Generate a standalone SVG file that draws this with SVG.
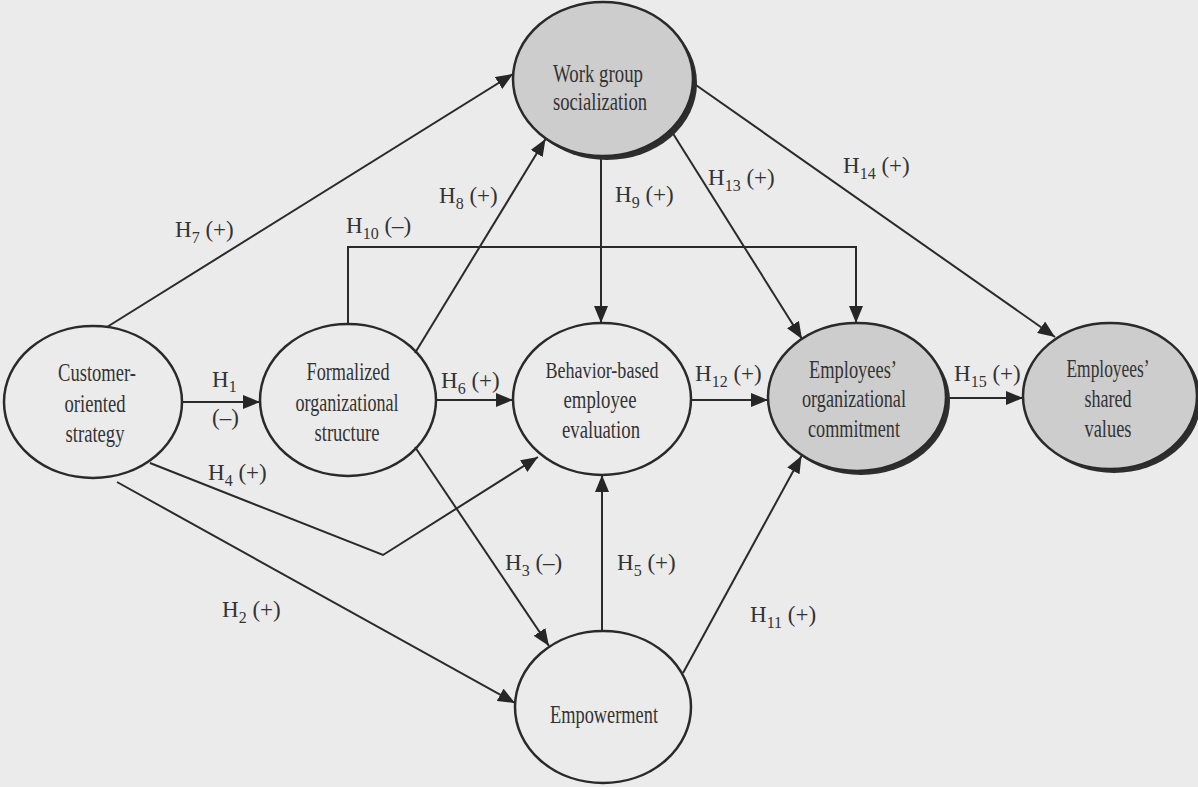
<svg xmlns="http://www.w3.org/2000/svg" width="1198" height="787" viewBox="0 0 1198 787">
  <defs>
    <marker id="arr" markerUnits="userSpaceOnUse" markerWidth="18" markerHeight="14" refX="17" refY="7" orient="auto">
      <path d="M0,0 L17,7 L0,14 z" fill="#262626"/>
    </marker>
    <style>
      .bg { fill: #ebebeb; }
      .node { fill: none; stroke: #2a2a2a; stroke-width: 2.5; }
      .shaded { fill: #cdcdcd; stroke: #2a2a2a; stroke-width: 2.5; }
      .shadow { fill: #2e2e2e; }
      .edge { fill: none; stroke: #2a2a2a; stroke-width: 2; }
      .arrow { marker-end: url(#arr); }
      text { font-family: "Liberation Serif", "Times New Roman", serif; font-size: 25px; fill: #333333; }
      .lab { font-size: 23px; }
      .sub { font-size: 16px; }
      .sm { font-size: 23.5px; }
    </style>
  </defs>
  <rect class="bg" x="0" y="0" width="1198" height="787"/>

  <g id="connectors">
    <line id="e-h1" class="edge arrow" x1="182" y1="402" x2="260" y2="402"/>
    <line id="e-h7" class="edge arrow" x1="107" y1="327" x2="513" y2="74"/>
    <line id="e-h8" class="edge arrow" x1="415" y1="353" x2="545.5" y2="139"/>
    <polyline id="e-h10" class="edge arrow" points="348,324 348,247 856,247 856,323"/>
    <line id="e-h9" class="edge arrow" x1="601" y1="156" x2="601" y2="323"/>
    <line id="e-h13" class="edge arrow" x1="672" y1="132" x2="802" y2="339"/>
    <line id="e-h14" class="edge arrow" x1="693" y1="83" x2="1055" y2="337"/>
    <line id="e-h6" class="edge arrow" x1="436" y1="400" x2="513" y2="400"/>
    <line id="e-h12" class="edge arrow" x1="691" y1="400" x2="768" y2="400"/>
    <line id="e-h15" class="edge arrow" x1="946" y1="398" x2="1023" y2="398"/>
    <polyline id="e-h4" class="edge arrow" points="150,463 383,555 538,457"/>
    <line id="e-h2" class="edge arrow" x1="117" y1="482" x2="515" y2="703"/>
    <line id="e-h3" class="edge arrow" x1="415" y1="447" x2="549" y2="646"/>
    <line id="e-h5" class="edge arrow" x1="602" y1="631" x2="602" y2="475"/>
    <line id="e-h11" class="edge arrow" x1="683" y1="673" x2="801.5" y2="456"/>

    <g id="edge-labels">
      <text class="lab" x="212" y="387">H<tspan class="sub" dy="5">1</tspan></text>
      <text class="lab" x="212" y="425">(–)</text>
      <text class="lab" x="175" y="237">H<tspan class="sub" dy="6">7</tspan><tspan dy="-6"> (+)</tspan></text>
      <text class="lab" x="346" y="233">H<tspan class="sub" dy="6">10</tspan><tspan dy="-6"> (–)</tspan></text>
      <text class="lab" x="439" y="203">H<tspan class="sub" dy="6">8</tspan><tspan dy="-6"> (+)</tspan></text>
      <text class="lab" x="615" y="202">H<tspan class="sub" dy="6">9</tspan><tspan dy="-6"> (+)</tspan></text>
      <text class="lab" x="708" y="185">H<tspan class="sub" dy="6">13</tspan><tspan dy="-6"> (+)</tspan></text>
      <text class="lab" x="843" y="173">H<tspan class="sub" dy="6">14</tspan><tspan dy="-6"> (+)</tspan></text>
      <text class="lab" x="441" y="388">H<tspan class="sub" dy="6">6</tspan><tspan dy="-6"> (+)</tspan></text>
      <text class="lab" x="695" y="381">H<tspan class="sub" dy="6">12</tspan><tspan dy="-6"> (+)</tspan></text>
      <text class="lab" x="954" y="381">H<tspan class="sub" dy="6">15</tspan><tspan dy="-6"> (+)</tspan></text>
      <text class="lab" x="208" y="480">H<tspan class="sub" dy="6">4</tspan><tspan dy="-6"> (+)</tspan></text>
      <text class="lab" x="222" y="617">H<tspan class="sub" dy="6">2</tspan><tspan dy="-6"> (+)</tspan></text>
      <text class="lab" x="505" y="570">H<tspan class="sub" dy="6">3</tspan><tspan dy="-6"> (–)</tspan></text>
      <text class="lab" x="617" y="570">H<tspan class="sub" dy="6">5</tspan><tspan dy="-6"> (+)</tspan></text>
      <text class="lab" x="750" y="622">H<tspan class="sub" dy="6">11</tspan><tspan dy="-6"> (+)</tspan></text>
    </g>
  </g>

  <g id="node-customer">
    <ellipse class="node" cx="93" cy="402" rx="89" ry="76"/>
    <text x="58" y="381" textLength="78" lengthAdjust="spacingAndGlyphs">Customer-</text>
    <text x="64.5" y="412" textLength="61" lengthAdjust="spacingAndGlyphs">oriented</text>
    <text x="65.5" y="442" textLength="59" lengthAdjust="spacingAndGlyphs">strategy</text>
  </g>

  <g id="node-formalized">
    <ellipse class="node" cx="348" cy="400" rx="88" ry="76"/>
    <text x="306.5" y="380" textLength="83" lengthAdjust="spacingAndGlyphs">Formalized</text>
    <text x="295.5" y="411" textLength="103" lengthAdjust="spacingAndGlyphs">organizational</text>
    <text x="314.5" y="441" textLength="65" lengthAdjust="spacingAndGlyphs">structure</text>
  </g>

  <g id="node-workgroup">
    <ellipse class="shadow" cx="607" cy="83" rx="90" ry="77"/>
    <ellipse class="shaded" cx="603" cy="79" rx="90" ry="77"/>
    <text x="553" y="82" textLength="90" lengthAdjust="spacingAndGlyphs">Work group</text>
    <text x="553" y="110" textLength="94" lengthAdjust="spacingAndGlyphs">socialization</text>
  </g>

  <g id="node-behavior">
    <ellipse class="node" cx="602" cy="399" rx="89" ry="76"/>
    <text class="sm" x="545.5" y="378" textLength="113" lengthAdjust="spacingAndGlyphs">Behavior-based</text>
    <text x="563.5" y="408" textLength="73" lengthAdjust="spacingAndGlyphs">employee</text>
    <text x="562" y="438" textLength="78" lengthAdjust="spacingAndGlyphs">evaluation</text>
  </g>

  <g id="node-commitment">
    <ellipse class="shadow" cx="861" cy="401" rx="89" ry="74"/>
    <ellipse class="shaded" cx="857" cy="397" rx="89" ry="74"/>
    <text x="809" y="378" textLength="88" lengthAdjust="spacingAndGlyphs">Employees’</text>
    <text x="802" y="407" textLength="104" lengthAdjust="spacingAndGlyphs">organizational</text>
    <text x="808" y="437" textLength="92" lengthAdjust="spacingAndGlyphs">commitment</text>
  </g>

  <g id="node-shared">
    <ellipse class="shadow" cx="1114" cy="400" rx="87" ry="73"/>
    <ellipse class="shaded" cx="1110" cy="396" rx="87" ry="73"/>
    <text x="1066.5" y="377" textLength="83" lengthAdjust="spacingAndGlyphs">Employees’</text>
    <text x="1084.5" y="407" textLength="47" lengthAdjust="spacingAndGlyphs">shared</text>
    <text x="1084.5" y="437" textLength="47" lengthAdjust="spacingAndGlyphs">values</text>
  </g>

  <g id="node-empowerment">
    <ellipse class="node" cx="603" cy="707" rx="88" ry="76"/>
    <text x="550" y="723" textLength="108" lengthAdjust="spacingAndGlyphs">Empowerment</text>
  </g>
</svg>
